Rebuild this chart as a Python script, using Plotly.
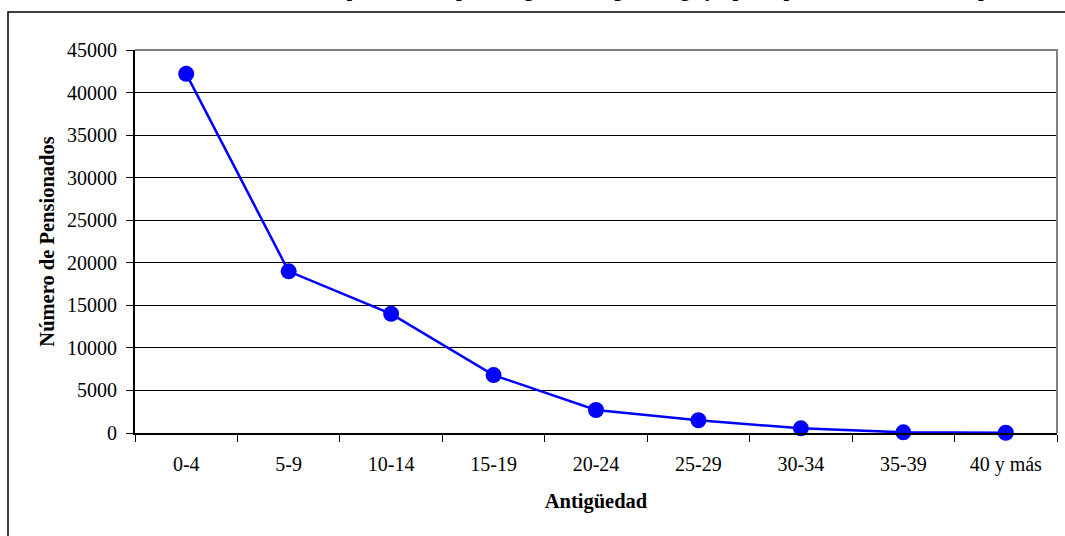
import plotly.graph_objects as go

categories = ["0-4", "5-9", "10-14", "15-19", "20-24", "25-29", "30-34", "35-39", "40 y más"]
pensionados = [42200, 19000, 14000, 6800, 2700, 1500, 550, 80, 30]
y_ticks = [0, 5000, 10000, 15000, 20000, 25000, 30000, 35000, 40000, 45000]

title_text = "Número de pensionados por antigüedad, según rango y tipo de pensión del sistema de pensiones"
x_title = "Antigüedad"
y_title = "Número de Pensionados"

FONT = "Liberation Serif, Times New Roman, serif"

W, H = 1065, 536
L, R, T, B = 135, 8, 50, 103
pw, ph = W - L - R, H - T - B


def px(xpix):
    return (xpix - L) / pw


def py(ypix):
    return (H - B - ypix) / ph


fig = go.Figure()
fig.add_trace(go.Scatter(
    x=categories, y=pensionados, mode="lines+markers",
    line=dict(color="#0000FF", width=2.5),
    marker=dict(color="#0000FF", size=16),
    showlegend=False, cliponaxis=False,
))

fig.update_layout(
    width=W, height=H,
    margin=dict(l=L, r=R, t=T, b=B),
    paper_bgcolor="white", plot_bgcolor="white",
    font=dict(family=FONT, size=20, color="black"),
    xaxis=dict(
        type="category", tickson="boundaries", ticks="outside", ticklen=7,
        tickcolor="black", showline=True, linecolor="black", linewidth=2,
        showgrid=False, tickfont=dict(size=20, family=FONT),
        ticklabelstandoff=12,
        title=dict(text="<b>" + x_title + "</b>", font=dict(size=20.5, family=FONT), standoff=19),
        range=[-0.5, len(categories) - 0.5],
    ),
    yaxis=dict(
        range=[0, 45000], tickvals=y_ticks, ticktext=[str(v) for v in y_ticks],
        ticks="outside", ticklen=7, tickcolor="black",
        showline=True, linecolor="black", linewidth=2,
        showgrid=True, gridcolor="black", gridwidth=1, zeroline=False,
        tickfont=dict(size=20, family=FONT),
        ticklabelstandoff=5,
        title=dict(text="<b>" + y_title + "</b>", font=dict(size=20.5, family=FONT), standoff=7),
    ),
    shapes=[
        dict(type="path", xref="paper", yref="paper", path="M0,1 L1,1 L1,0",
             line=dict(color="#808080", width=2), layer="above"),
        dict(type="rect", xref="paper", yref="paper",
             x0=px(8), x1=px(1067), y0=py(540), y1=py(12),
             line=dict(color="black", width=1.5), layer="below"),
    ],
    annotations=[
        dict(text="<b>" + title_text + "</b>", xref="paper", yref="paper",
             x=px(245), y=py(3), xanchor="left", yanchor="bottom",
             showarrow=False, font=dict(size=20, family=FONT)),
    ],
)

fig.write_html("out.html", config={"displayModeBar": False},
               post_script="document.body.style.margin='0';")
